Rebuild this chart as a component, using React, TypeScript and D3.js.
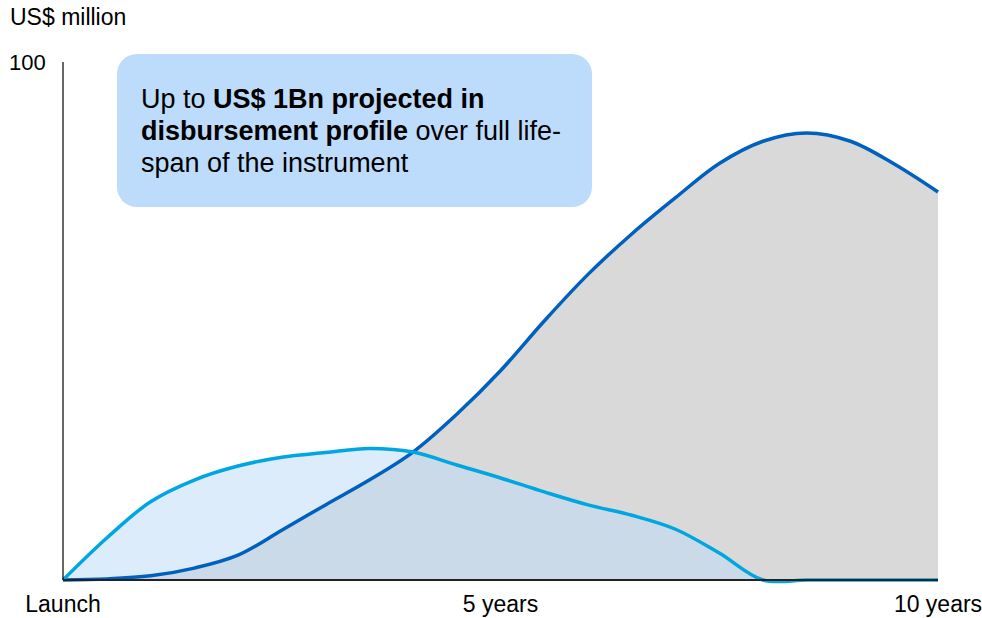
import React from "react";
import * as d3 from "d3";

const years = [0, 0.5, 1, 1.5, 2, 2.5, 3, 3.5, 4, 4.5, 5, 5.5, 6, 6.5, 7, 7.5, 8, 8.5, 9, 9.5, 10];
const totalProfile = [0, 0.2, 0.8, 2.3, 4.8, 9.6, 14.5, 19.3, 24.7, 32, 40.4, 50, 59, 66.8, 73.8, 80.4, 84.7, 86.3, 84.7, 80.3, 74.9];
const earlyProfile = [0, 8.1, 15.1, 19.3, 22, 23.7, 24.6, 25.4, 24.7, 22.2, 19.7, 17, 14.5, 12.5, 9.8, 5.2, 0, 0, 0, 0, 0];
const xTicks = [
  { v: 0, label: "Launch" },
  { v: 5, label: "5 years" },
  { v: 10, label: "10 years" },
];
const yMax = 100;

const W = 982;
const H = 618;
const FONT = "'Liberation Sans', Arial, Helvetica, sans-serif";

export default function App() {
  const x = d3.scaleLinear().domain([0, 10]).range([63, 938]);
  const y = d3.scaleLinear().domain([0, yMax]).range([580, 62]);

  const total = years.map((t, i) => [t, totalProfile[i]] as [number, number]);
  const early = years.map((t, i) => [t, earlyProfile[i]] as [number, number]);

  const curve = d3.curveCatmullRom.alpha(0.5);
  const area = d3
    .area<[number, number]>()
    .x((d) => x(d[0]))
    .y0(y(0))
    .y1((d) => y(d[1]))
    .curve(curve);
  const line = d3
    .line<[number, number]>()
    .x((d) => x(d[0]))
    .y((d) => y(d[1]))
    .curve(curve);

  return (
    <svg
      width={W}
      height={H}
      style={{ position: "absolute", left: 0, top: 0, background: "#fff" }}
      fontFamily={FONT}
    >
      <path d={area(total) || ""} fill="#d9d9d9" />
      <path d={area(early) || ""} fill="rgb(189,219,247)" fillOpacity={0.53} />
      <path d={line(total) || ""} fill="none" stroke="#0060be" strokeWidth={3.5} />
      <path d={line(early) || ""} fill="none" stroke="#00a6e0" strokeWidth={3.5} />

      {/* axes */}
      <line x1={x(0)} x2={x(0)} y1={y(yMax)} y2={y(0)} stroke="#000" strokeWidth={1.2} />
      <line x1={x(0)} x2={x(10)} y1={y(0)} y2={y(0)} stroke="#222" strokeWidth={2} />

      <text x={10} y={25} fontSize={23} fill="#000">US$ million</text>
      <text x={9} y={70} fontSize={22} fill="#000">{yMax}</text>

      {xTicks.map((t) => (
        <text key={t.label} x={x(t.v)} y={612} fontSize={23} textAnchor="middle" fill="#000">
          {t.label}
        </text>
      ))}

      {/* annotation box */}
      <rect x={117} y={54} width={475} height={153} rx={20} ry={20} fill="#bddcfc" />
      <text x={141} y={108} fontSize={27} fill="#000">
        <tspan>Up to </tspan>
        <tspan fontWeight="bold">US$ 1Bn projected in</tspan>
      </text>
      <text x={141} y={140} fontSize={27} fill="#000">
        <tspan fontWeight="bold">disbursement profile</tspan>
        <tspan> over full life-</tspan>
      </text>
      <text x={141} y={172} fontSize={27} fill="#000">
        span of the instrument
      </text>
    </svg>
  );
}
